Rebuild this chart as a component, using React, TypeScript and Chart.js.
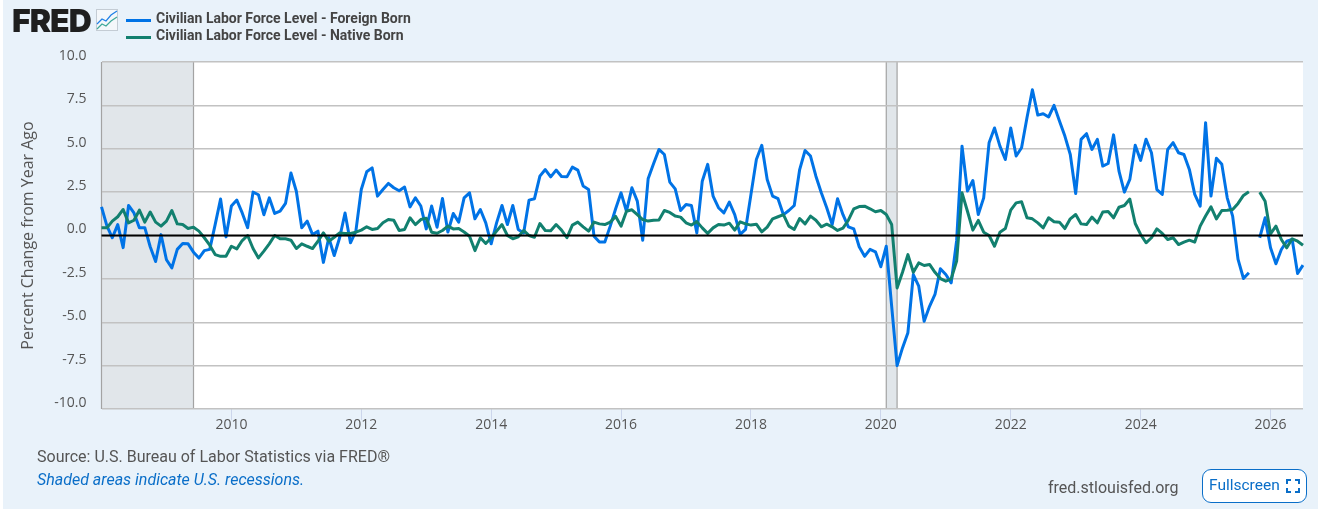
import React, { useEffect, useRef } from "react";
import { Chart, registerables } from "chart.js";

Chart.register(...registerables);

const foreignBorn: (number | null)[] = [
  1.65, 0.55, -0.13, 0.63, -0.7, 1.73, 1.3, 0.45, 0.45, -0.65, -1.5, 0.05,
  -1.4, -1.87, -0.8, -0.46, -0.48, -0.96, -1.3, -0.87, -0.8, 0.63, 2.1, -0.08,
  1.7, 2.04, 1.3, 0.45, 2.5, 2.35, 1.2, 2.17, 1.27, 1.4, 1.85, 3.6,
  2.55, 0.45, 0.83, 0.05, 0.25, -1.55, -0.13, -1.15, -0.13, 1.3, -0.42, 0.25,
  2.65, 3.67, 3.9, 2.27, 2.65, 3.0, 2.75, 2.58, 2.79, 1.65, 2.17, 1.7,
  0.38, 1.7, 0.48, 2.13, 0.2, 1.27, 0.77, 2.17, 2.46, 0.96, 1.5, 0.73,
  -0.48, 0.73, 1.73, 0.63, 1.73, 0.35, 0.15, 2.04, 2.12, 3.42, 3.8, 3.38,
  3.77, 3.4, 3.38, 3.94, 3.77, 2.85, 2.65, -0.04, -0.38, -0.37, 0.54, 1.54,
  2.46, 1.4, 2.75, 1.98, -0.27, 3.27, 4.13, 4.96, 4.67, 3.08, 2.69, 1.44,
  1.79, 1.73, 0.15, 3.13, 4.1, 2.27, 1.6, 1.3, 1.92, 1.2, 0.06, 0.35,
  2.37, 4.38, 5.2, 3.23, 2.27, 2.12, 1.2, 1.44, 1.73, 3.8, 4.9, 4.58,
  3.42, 2.46, 1.6, 0.63, 2.12, 1.2, 0.5, 0.38, -0.65, -1.2, -0.8, -0.94,
  -1.8, -0.62, -4.08, -7.5, -6.48, -5.6, -2.25, -2.92, -4.94, -4.08, -3.4, -1.92,
  -2.25, -2.73, -0.3, 5.15, 2.56, 3.17, 1.21, 2.17, 5.35, 6.2, 5.15, 4.38,
  6.2, 4.58, 5.06, 6.79, 8.4, 6.94, 7.02, 6.83, 7.5, 6.6, 5.73, 4.67,
  2.42, 5.54, 5.87, 4.96, 5.54, 4.0, 4.15, 5.8, 3.71, 2.5, 3.23, 5.2,
  4.33, 5.55, 4.77, 2.65, 2.37, 4.96, 5.35, 4.77, 4.67, 3.81, 2.37, 1.69,
  6.5, 2.27, 4.45, 4.1, 2.17, 1.12, -1.38, -2.48, -2.15, null, -0.13, 1.02,
  -0.71, -1.63, -0.81, -0.33, -0.23, -2.19, -1.71,
];

const nativeBorn: (number | null)[] = [
  0.44, 0.44, 0.83, 1.08, 1.5, 0.73, 0.88, 1.46, 0.77, 1.35, 0.77, 0.54,
  0.83, 1.44, 0.67, 0.63, 0.4, 0.48, 0.25, -0.13, -0.56, -1.1, -1.2, -1.2,
  -0.62, -0.77, -0.29, 0, -0.75, -1.29, -0.9, -0.48, 0, -0.19, -0.19, -0.27,
  -0.75, -0.48, -0.62, -0.75, -0.33, 0.15, -0.33, -0.1, 0.15, 0.12, 0.12, 0.19,
  0.31, 0.5, 0.35, 0.4, 0.73, 0.92, 0.88, 0.29, 0.35, 1.02, 0.63, 0.92,
  1.0, 0.19, 0.13, 0.29, 0.54, 0.38, 0.4, 0.2, -0.04, -0.87, -0.13, -0.46,
  -0.13, 0.25, 0.63, 0, -0.19, -0.08, 0.29, 0, -0.1, 0.69, 0.29, 0.27,
  0.63, 0.31, -0.13, 0.6, 0.77, 0.5, 0.25, 0.77, 0.67, 0.63, 0.77, 1.1,
  0.54, 1.4, 1.48, 1.2, 0.92, 0.83, 0.88, 0.9, 1.44, 1.33, 1.12, 1.06,
  0.73, 0.6, 0.8, 0.44, 0.12, 0.44, 0.63, 0.6, 0.71, 0.31, 0.79, 0.67,
  0.6, 0.65, 0.21, 0.48, 0.96, 1.08, 1.2, 0.54, 0.35, 0.98, 0.67, 1.12,
  0.88, 0.5, 0.65, 0.5, 0.29, 0.42, 0.88, 1.54, 1.67, 1.69, 1.54, 1.37,
  1.44, 1.21, 0.63, -3.02, -2.12, -1.1, -2.12, -1.58, -1.73, -1.67, -2.12, -2.48,
  -2.63, -2.5, -1.48, 2.46, 1.4, 0.31, 0.87, 0.19, 0, -0.62, 0.19, 0.4,
  1.46, 1.88, 1.94, 1.02, 0.96, 0.73, 0.44, 1.02, 0.79, 0.77, 0.4, 0.96,
  1.21, 0.67, 0.63, 1.06, 0.73, 1.35, 1.38, 1.02, 1.63, 1.73, 2.1, 0.69,
  0.06, -0.42, -0.13, 0.38, 0.12, -0.23, -0.13, -0.52, -0.38, -0.27, -0.38, 0.54,
  1.12, 1.65, 0.96, 1.44, 1.46, 1.5, 1.85, 2.31, 2.52, null, 2.5, 1.98,
  0.1, 0.54, -0.23, -0.71, -0.19, -0.33, -0.56,
];

const months: string[] = [];
for (let y = 2008; y <= 2026; y++) {
  for (let m = 1; m <= 12; m++) {
    if (y === 2026 && m > 7) break;
    months.push(`${y}-${String(m).padStart(2, "0")}`);
  }
}

const tickYears = ["2010", "2012", "2014", "2016", "2018", "2020", "2022", "2024", "2026"];
const recessions: [string, string][] = [
  ["2008-01", "2009-06"],
  ["2020-02", "2020-04"],
];
const yTicks = [10, 7.5, 5, 2.5, 0, -2.5, -5, -7.5, -10];
const referenceLine = 0;

const BLUE = "#0073e6";
const GREEN = "#12806f";
const PAGE_BG = "#e9f2fa";
const AXIS_FONT = "'Open Sans', sans-serif";
const TEXT_FONT = "Roboto, sans-serif";

const isYearTick = (index: number) => {
  const label = months[index];
  return label.endsWith("-01") && tickYears.includes(label.slice(0, 4));
};

const backdropPlugin = {
  id: "backdrop",
  beforeDraw(chart: any) {
    const { ctx, chartArea: a, scales } = chart;
    ctx.save();
    ctx.fillStyle = "#ffffff";
    ctx.fillRect(a.left, a.top, a.right - a.left, a.bottom - a.top);
    for (const [from, to] of recessions) {
      const x0 = scales.x.getPixelForValue(months.indexOf(from));
      const x1 = scales.x.getPixelForValue(months.indexOf(to));
      ctx.fillStyle = "#e1e6ea";
      ctx.fillRect(x0, a.top, x1 - x0, a.bottom - a.top);
      ctx.strokeStyle = "#a3a3a3";
      ctx.lineWidth = 1.2;
      ctx.beginPath();
      ctx.moveTo(x0, a.top);
      ctx.lineTo(x0, a.bottom);
      ctx.moveTo(x1, a.top);
      ctx.lineTo(x1, a.bottom);
      ctx.stroke();
    }
    ctx.restore();
  },
};

const zeroLinePlugin = {
  id: "zeroLine",
  afterDatasetsDraw(chart: any) {
    const { ctx, chartArea: a, scales } = chart;
    const y = scales.y.getPixelForValue(referenceLine);
    ctx.save();
    ctx.strokeStyle = "#000000";
    ctx.lineWidth = 2;
    ctx.beginPath();
    ctx.moveTo(a.left, y);
    ctx.lineTo(a.right, y);
    ctx.stroke();
    ctx.restore();
  },
};

const abs = (left: number, top: number): React.CSSProperties => ({
  position: "absolute",
  left,
  top,
  whiteSpace: "nowrap",
});

export default function App() {
  const canvasRef = useRef<HTMLCanvasElement | null>(null);

  useEffect(() => {
    document.body.style.margin = "0";
    const chart = new Chart(canvasRef.current as HTMLCanvasElement, {
      type: "line",
      data: {
        labels: months,
        datasets: [
          {
            label: "Civilian Labor Force Level - Foreign Born",
            data: foreignBorn,
            borderColor: BLUE,
            backgroundColor: BLUE,
            borderWidth: 3,
            borderJoinStyle: "round",
            pointRadius: 0,
            tension: 0,
            spanGaps: false,
            order: 2,
          },
          {
            label: "Civilian Labor Force Level - Native Born",
            data: nativeBorn,
            borderColor: GREEN,
            backgroundColor: GREEN,
            borderWidth: 3,
            borderJoinStyle: "round",
            pointRadius: 0,
            tension: 0,
            spanGaps: false,
            order: 1,
          },
        ],
      },
      options: {
        responsive: false,
        animation: false,
        layout: { padding: { top: 62, right: 15, bottom: 0, left: 0 } },
        plugins: { legend: { display: false }, tooltip: { enabled: false } },
        scales: {
          x: {
            type: "category",
            offset: false,
            afterFit(scale: any) {
              scale.height = 100;
            },
            grid: {
              drawOnChartArea: false,
              drawTicks: true,
              tickLength: 11,
              tickWidth: 1,
              tickColor: (ctx: any) =>
                ctx.index !== undefined && isYearTick(ctx.index) ? "#ccd6eb" : "rgba(0,0,0,0)",
            },
            border: { display: false },
            ticks: {
              autoSkip: false,
              maxRotation: 0,
              padding: -3,
              color: "#555555",
              font: { family: AXIS_FONT, size: 14 },
              callback(_value: any, index: number) {
                return isYearTick(index) ? months[index].slice(0, 4) : "";
              },
            },
          },
          y: {
            min: -10,
            max: 10,
            afterFit(scale: any) {
              scale.width = 101.5;
            },
            afterBuildTicks(scale: any) {
              scale.ticks = yTicks.map((value) => ({ value }));
            },
            grid: { color: "#c2c2c2", lineWidth: 1.5, drawTicks: false },
            border: { display: false },
            title: {
              display: true,
              text: "Percent Change from Year Ago",
              color: "#555555",
              font: { family: AXIS_FONT, size: 16, weight: "normal" },
              padding: { top: 19, bottom: 0 },
            },
            ticks: {
              padding: 15,
              labelOffset: -6,
              color: "#555555",
              font: { family: AXIS_FONT, size: 14 },
              callback(value: any) {
                return Number(value).toFixed(1);
              },
            },
          },
        },
      },
      plugins: [backdropPlugin, zeroLinePlugin],
    } as any);
    return () => chart.destroy();
  }, []);

  return (
    <div
      style={{
        position: "relative",
        width: 1318,
        height: 509,
        background: "#ffffff",
        overflow: "hidden",
      }}
    >
      <div style={{ position: "absolute", left: 3, top: 0, width: 1315, height: 509, background: PAGE_BG }} />
      <canvas
        ref={canvasRef}
        width={1318}
        height={509}
        style={{ position: "absolute", left: 0, top: 0, width: 1318, height: 509 }}
      />
      <div
        style={{
          ...abs(12, 2),
          fontFamily: "Inter, 'Liberation Sans', sans-serif",
          fontWeight: 900,
          fontSize: 32,
          lineHeight: "38px",
          letterSpacing: -1,
          color: "#1f1f1f",
        }}
      >
        FRED
      </div>
      <svg style={abs(96, 9)} width={23} height={22} viewBox="0 0 23 22">
        <rect x={0.5} y={0.5} width={21} height={21} fill="#f4f7fa" stroke="#c4ccd4" />
        <polyline points="1,15 6,10 10,12 15,6 21,2" fill="none" stroke="#1f7fe6" strokeWidth={1.2} />
        <polyline points="1,20 6,15 10,17 15,12 21,8" fill="none" stroke="#3fa898" strokeWidth={1.2} />
      </svg>
      <div style={{ ...abs(126, 19), width: 25, height: 3, background: BLUE }} />
      <div style={{ ...abs(126, 36), width: 25, height: 3, background: GREEN }} />
      <div
        style={{
          ...abs(156, 10),
          fontFamily: TEXT_FONT,
          fontWeight: 700,
          fontSize: 14,
          lineHeight: "17px",
          color: "#444444",
        }}
      >
        Civilian Labor Force Level - Foreign Born
        <br />
        Civilian Labor Force Level - Native Born
      </div>
      <div style={{ ...abs(37, 448), fontFamily: TEXT_FONT, fontSize: 16, lineHeight: "18px", color: "#555555" }}>
        Source: U.S. Bureau of Labor Statistics via FRED®
      </div>
      <div
        style={{
          ...abs(37, 471),
          fontFamily: TEXT_FONT,
          fontSize: 16,
          fontStyle: "italic",
          lineHeight: "18px",
          color: "#0a6ec8",
        }}
      >
        Shaded areas indicate U.S. recessions.
      </div>
      <div style={{ ...abs(1048, 479), fontFamily: TEXT_FONT, fontSize: 16, lineHeight: "18px", color: "#555555" }}>
        fred.stlouisfed.org
      </div>
      <div
        style={{
          position: "absolute",
          left: 1202,
          top: 469,
          width: 103,
          height: 32,
          border: "1px solid #0a6ec8",
          borderRadius: 9,
          background: "#ffffff",
          boxSizing: "content-box",
        }}
      >
        <span
          style={{
            position: "absolute",
            left: 6,
            top: 6,
            fontFamily: TEXT_FONT,
            fontSize: 15.5,
            lineHeight: "18px",
            color: "#0a6ec8",
          }}
        >
          Fullscreen
        </span>
        <svg style={{ position: "absolute", left: 83, top: 9 }} width={14} height={14} viewBox="0 0 14 14">
          <path
            d="M1 5V1H5M9 1H13V5M13 9V13H9M5 13H1V9"
            fill="none"
            stroke="#0a6ec8"
            strokeWidth={2}
          />
        </svg>
      </div>
    </div>
  );
}
